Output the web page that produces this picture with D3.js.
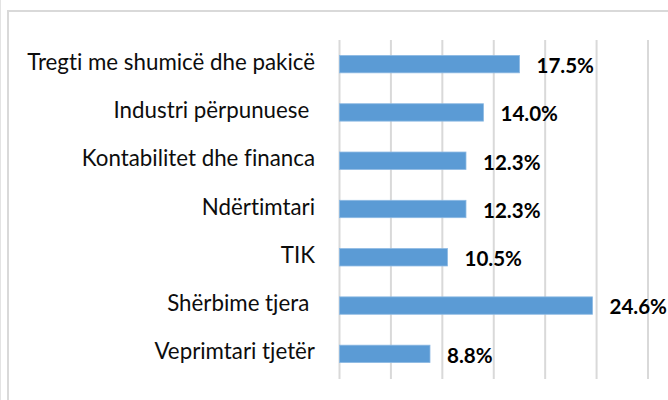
<!DOCTYPE html>
<html>
<head>
<meta charset="utf-8">
<script src="https://cdn.jsdelivr.net/npm/d3@7"></script>
<style>
  html, body { margin: 0; padding: 0; background: #fff; }
  svg { display: block; }
  text { white-space: pre; font-variant-ligatures: none; font-feature-settings: "liga" 0, "clig" 0; }
</style>
</head>
<body>
<svg id="chart" width="668" height="400"></svg>
<script>
const categories = ["Tregti me shumicë dhe pakicë", "Industri përpunuese ", "Kontabilitet dhe financa", "Ndërtimtari", "TIK", "Shërbime tjera ", "Veprimtari tjetër"];
const values = [17.5, 14.0, 12.3, 12.3, 10.5, 24.6, 8.8];
const valueLabels = ["17.5%", "14.0%", "12.3%", "12.3%", "10.5%", "24.6%", "8.8%"];
const xTicks = [0, 5, 10, 15, 20, 25, 30];

const svg = d3.select("#chart");
const FONT = "Lato, 'Open Sans', sans-serif";

// frame lines
svg.append("line").attr("x1", 0.5).attr("x2", 0.5).attr("y1", 0).attr("y2", 400)
  .attr("stroke", "#e3e3e3").attr("stroke-width", 1);
svg.append("line").attr("x1", 8).attr("x2", 8).attr("y1", 10).attr("y2", 400)
  .attr("stroke", "#d9d9d9").attr("stroke-width", 2);
svg.append("line").attr("x1", 7).attr("x2", 668).attr("y1", 11).attr("y2", 11)
  .attr("stroke", "#d9d9d9").attr("stroke-width", 2);

const x = d3.scaleLinear().domain([0, 30]).range([339.5, 648]);
const y = d3.scaleBand().domain(categories).range([40, 378]).paddingInner(0.64).paddingOuter(0.32);

// gridlines
svg.append("g").selectAll("line").data(xTicks).join("line")
  .attr("x1", d => x(d)).attr("x2", d => x(d))
  .attr("y1", 40).attr("y2", 379)
  .attr("stroke", "#d9d9d9").attr("stroke-width", 2);

// bars
svg.append("g").selectAll("rect").data(values).join("rect")
  .attr("x", x(0))
  .attr("y", (d, i) => y(categories[i]))
  .attr("width", d => x(d) - x(0))
  .attr("height", y.bandwidth())
  .attr("fill", "#5b9bd5")
  .attr("stroke", "#8cb9e3").attr("stroke-width", 0.8);

// category labels
const cats = svg.append("g").selectAll("text").data(categories).join("text")
  .attr("x", 315)
  .attr("y", d => y(d) + y.bandwidth() / 2 + 5.6)
  .attr("text-anchor", "end")
  .attr("font-family", FONT)
  .attr("font-size", 20)
  .attr("fill", "#0d0d0d")
  .text(d => d);
const longest = cats.filter((d, i) => i === 0).node().getComputedTextLength();
cats.attr("font-size", 20 * 288 / longest);

// value labels (bold, slightly condensed to match the reference proportions)
const VFS = 20.8;
const vals = svg.append("g").selectAll("text").data(values).join("text")
  .attr("font-family", FONT)
  .attr("font-weight", "bold")
  .attr("font-size", VFS)
  .attr("fill", "#000")
  .text((d, i) => valueLabels[i]);
const vlen = vals.filter((d, i) => i === 5).node().getComputedTextLength();
const sx = 57.5 / vlen;
vals.attr("transform", (d, i) =>
  `translate(${x(d) + 17},${y(categories[i]) + y.bandwidth() / 2 + 8.9}) scale(${sx},1)`);
</script>
</body>
</html>
